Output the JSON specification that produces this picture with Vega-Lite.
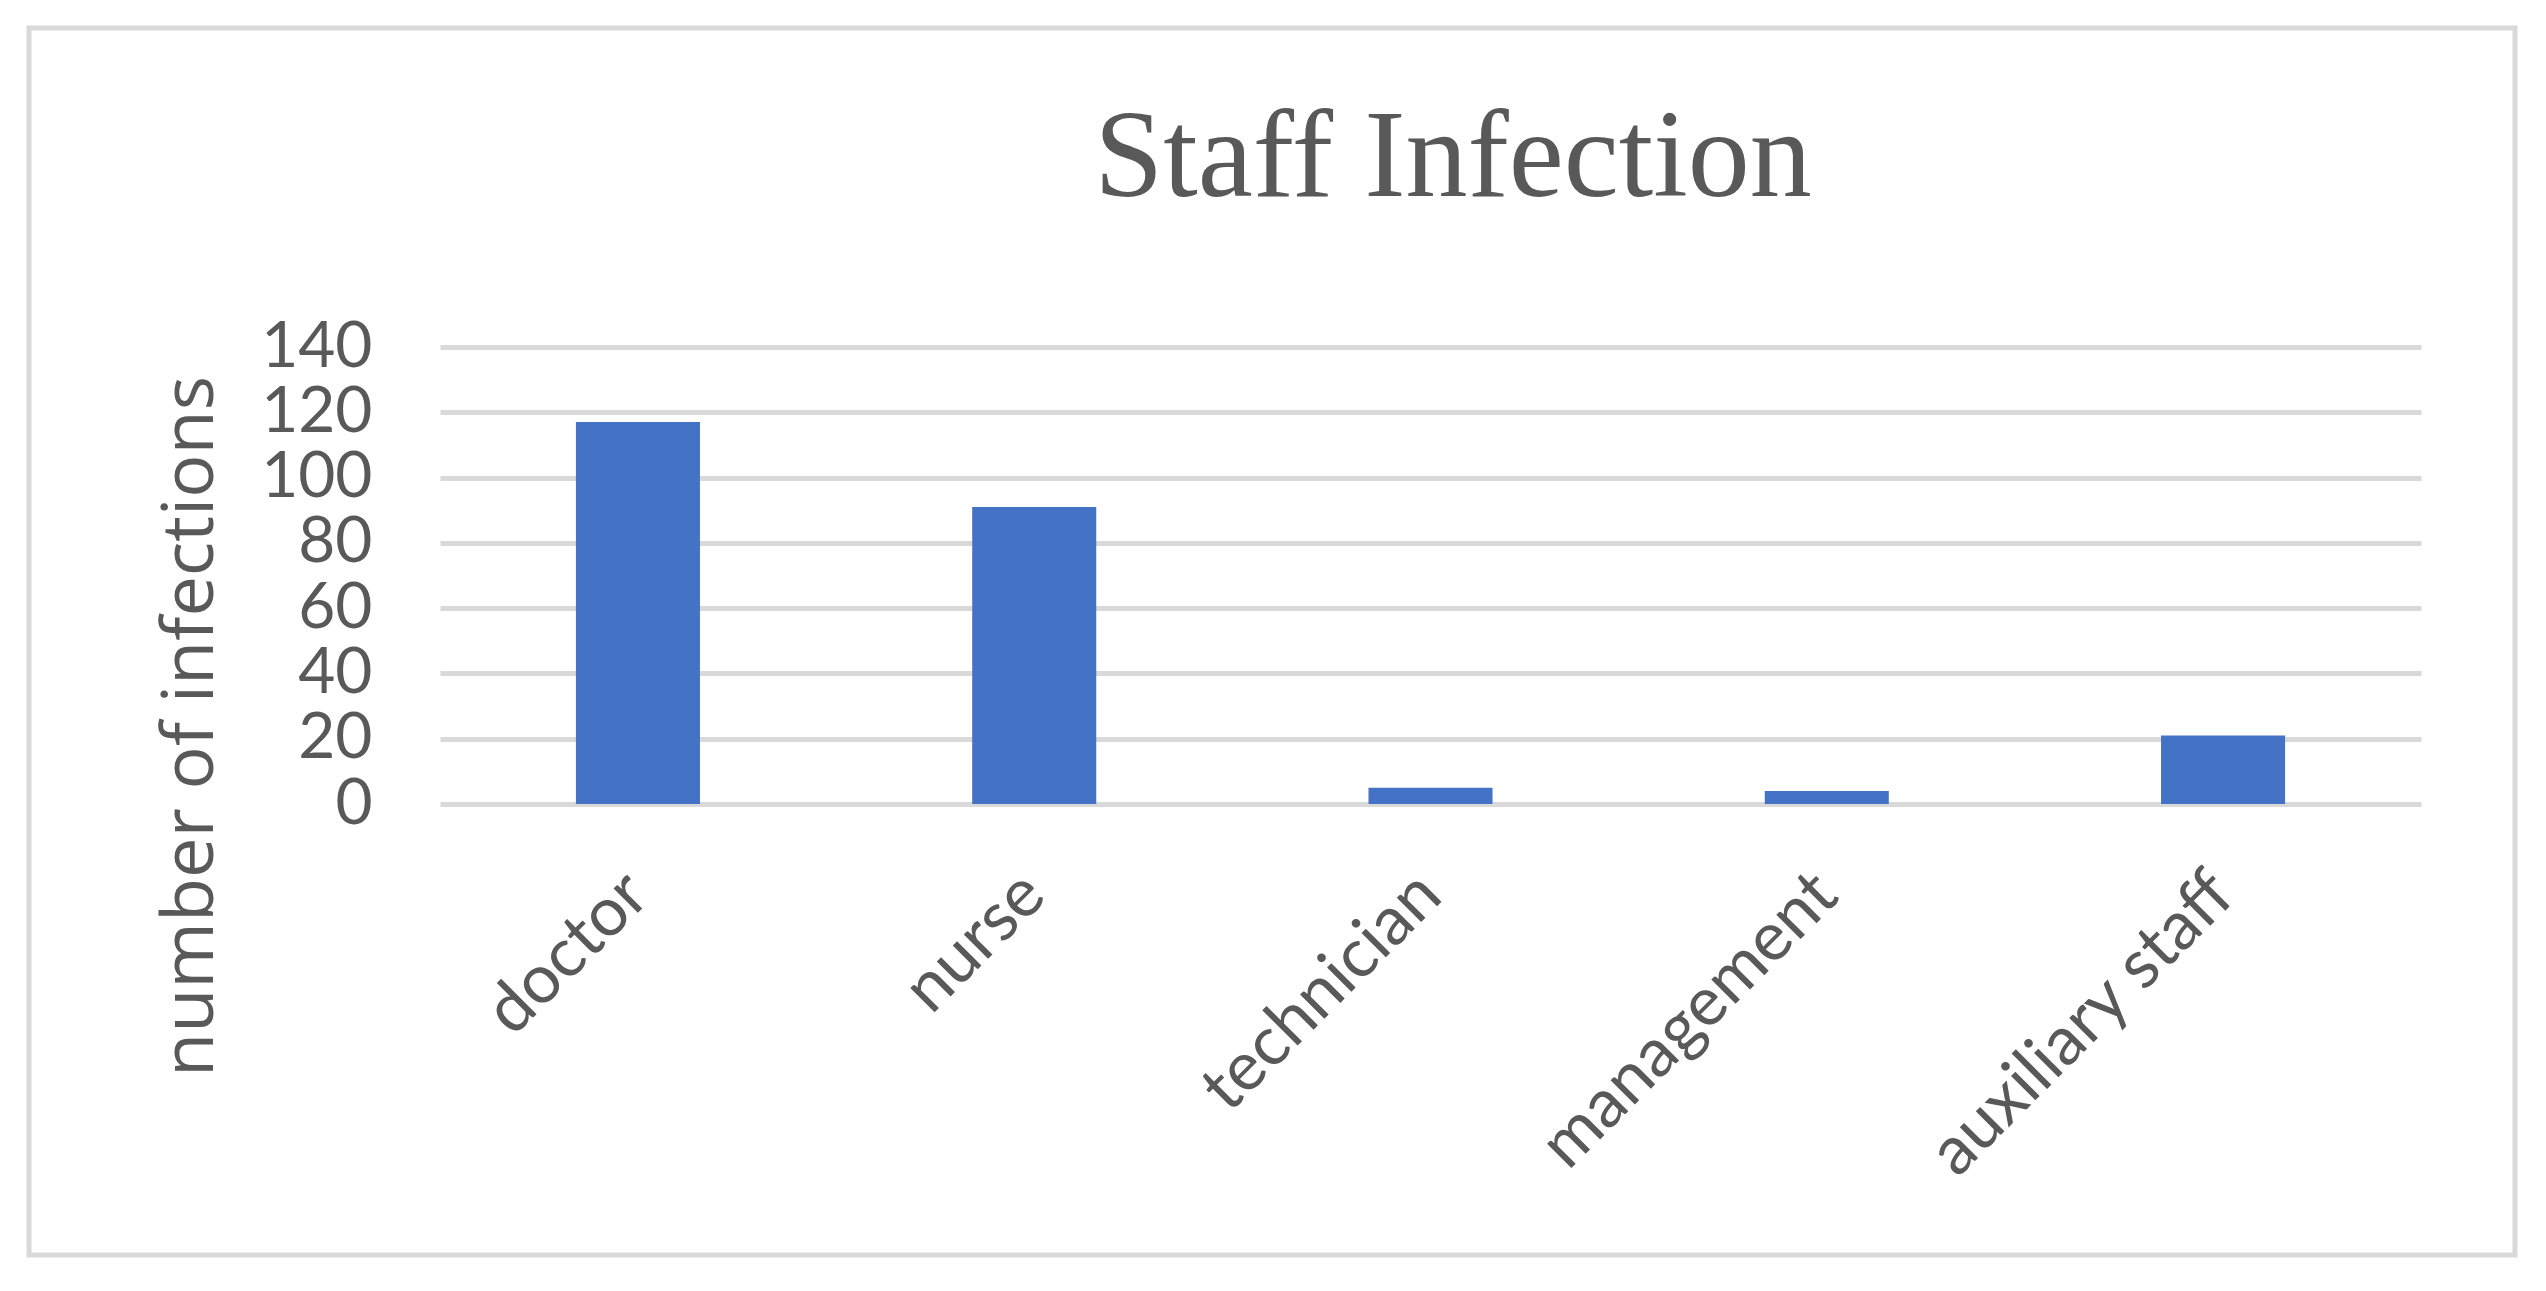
{
  "$schema": "https://vega.github.io/schema/vega-lite/v6.json",
  "autosize": "none",
  "padding": {"left": 29, "top": 28, "right": 31, "bottom": 36},
  "width": 2486,
  "height": 1227,
  "background": "white",
  "title": {
    "text": "Staff Infection",
    "font": "Liberation Serif",
    "fontSize": 124,
    "fontWeight": "normal",
    "color": "#595959",
    "anchor": "middle",
    "frame": "group",
    "baseline": "alphabetic",
    "offset": -292,
    "dx": 181
  },
  "data": {
    "values": [
      {"role": "doctor", "infections": 117},
      {"role": "nurse", "infections": 91},
      {"role": "technician", "infections": 5},
      {"role": "management", "infections": 4},
      {"role": "auxiliary staff", "infections": 21}
    ]
  },
  "mark": {"type": "bar", "color": "#4472C4"},
  "encoding": {
    "x": {
      "field": "role",
      "type": "nominal",
      "sort": null,
      "title": null,
      "scale": {"range": [411, 2392], "paddingInner": 0.687, "paddingOuter": 0.343},
      "axis": {
        "offset": -451,
        "labelAngle": -45,
        "labelAlign": "right",
        "labelBaseline": "middle",
        "labelPadding": 80,
        "labelLimit": 0,
        "labelOverlap": false,
        "labelFont": "Lato",
        "labelFontSize": 68,
        "labelColor": "#595959",
        "ticks": false,
        "domain": false,
        "grid": false
      }
    },
    "y": {
      "field": "infections",
      "type": "quantitative",
      "title": "number of infections",
      "scale": {"domain": [0, 140], "range": [776, 319], "nice": false},
      "axis": {
        "offset": -411,
        "values": [0, 20, 40, 60, 80, 100, 120, 140],
        "labelOverlap": false,
        "labelPadding": 68,
        "labelFont": "Lato",
        "labelFontSize": 64,
        "labelColor": "#595959",
        "labelBaseline": "middle",
        "ticks": false,
        "domain": false,
        "grid": true,
        "gridColor": "#d9d9d9",
        "gridWidth": 5,
        "titleFont": "Open Sans",
        "titleFontSize": 72,
        "titleFontWeight": "normal",
        "titleColor": "#595959",
        "titleAngle": -90,
        "titleAlign": "center",
        "titleBaseline": "middle",
        "titleX": -250,
        "titleY": 698
      }
    }
  },
  "config": {
    "view": {"stroke": "#d9d9d9", "strokeWidth": 5, "fill": "white"}
  }
}
